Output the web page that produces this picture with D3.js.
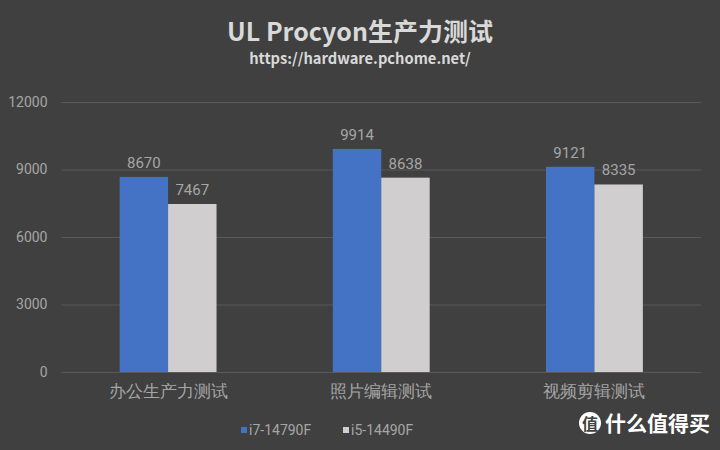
<!DOCTYPE html>
<html>
<head>
<meta charset="utf-8">
<script src="https://cdn.jsdelivr.net/npm/d3@7"></script>
<style>
  body { margin: 0; background: #404040; }
  svg { display: block; font-family: "Noto Sans CJK SC", "Noto Sans", sans-serif; }
</style>
</head>
<body>
<div id="viz"></div>
<script>
// chart data
var categories = ["办公生产力测试", "照片编辑测试", "视频剪辑测试"];
var seriesNames = ["i7-14790F", "i5-14490F"];
var i7Values = [8670, 9914, 9121];
var i5Values = [7467, 8638, 8335];
var yTicks = [0, 3000, 6000, 9000, 12000];

var seriesColors = ["#4472c4", "#d0cece"];
var labelColor = "#a6a6a6";

var width = 720, height = 450;
var margin = {top: 102, right: 19, bottom: 78, left: 61.5};

var svg = d3.select("#viz").append("svg")
    .attr("width", width)
    .attr("height", height);

svg.append("rect").attr("width", width).attr("height", height).attr("fill", "#404040");

// title
svg.append("text")
    .attr("x", 360).attr("y", 41)
    .attr("text-anchor", "middle")
    .attr("font-size", "25px")
    .attr("font-weight", "bold")
    .attr("fill", "#d9d9d9")
    .text("UL Procyon生产力测试");

svg.append("text")
    .attr("x", 360).attr("y", 64)
    .attr("text-anchor", "middle")
    .attr("font-size", "14.7px")
    .attr("font-weight", "bold")
    .attr("fill", "#d9d9d9")
    .text("https://hardware.pchome.net/");

var x0 = d3.scaleBand()
    .domain(categories)
    .range([margin.left, width - margin.right]);

var x1 = d3.scaleBand()
    .domain(seriesNames)
    .range([0, x0.bandwidth()])
    .paddingInner(0)
    .paddingOuter(1.2);

var y = d3.scaleLinear()
    .domain([0, 12000])
    .range([height - margin.bottom, margin.top]);

// gridlines + y labels
var yAxis = d3.axisLeft(y)
    .tickValues(yTicks)
    .tickSize(-(width - margin.left - margin.right))
    .tickPadding(14)
    .tickFormat(d3.format("d"));

var gy = svg.append("g")
    .attr("transform", "translate(" + margin.left + ",0)")
    .call(yAxis);
gy.select(".domain").remove();
gy.selectAll(".tick line").attr("stroke", "#595959").attr("stroke-width", 1);
gy.selectAll(".tick text")
    .attr("fill", labelColor)
    .attr("font-size", "14px")
    .attr("font-family", "Roboto, 'Noto Sans', sans-serif");

// bars
var rows = categories.map(function(c, i) {
    return {cat: c, vals: [
        {name: seriesNames[0], v: i7Values[i]},
        {name: seriesNames[1], v: i5Values[i]}
    ]};
});

var groups = svg.selectAll(".grp").data(rows).enter().append("g")
    .attr("class", "grp")
    .attr("transform", function(d) { return "translate(" + x0(d.cat) + ",0)"; });

groups.selectAll("rect").data(function(d) { return d.vals; }).enter().append("rect")
    .attr("x", function(d) { return x1(d.name); })
    .attr("y", function(d) { return y(d.v); })
    .attr("width", x1.bandwidth())
    .attr("height", function(d) { return y(0) - y(d.v); })
    .attr("fill", function(d, i) { return seriesColors[i]; });

groups.selectAll(".val").data(function(d) { return d.vals; }).enter().append("text")
    .attr("class", "val")
    .attr("x", function(d) { return x1(d.name) + x1.bandwidth() / 2; })
    .attr("y", function(d) { return y(d.v) - 9; })
    .attr("text-anchor", "middle")
    .attr("font-size", "15px")
    .attr("font-family", "Roboto, 'Noto Sans', sans-serif")
    .attr("fill", labelColor)
    .text(function(d) { return d.v; });

// x axis
var gx = svg.append("g")
    .attr("transform", "translate(0," + y(0) + ")")
    .call(d3.axisBottom(x0).tickSize(0).tickPadding(13));
gx.select(".domain").attr("stroke", "#595959");
gx.selectAll(".tick text")
    .attr("fill", labelColor)
    .attr("font-size", "16.5px");

// legend
var legendX = [241, 343];
var legend = svg.selectAll(".leg").data(seriesNames).enter().append("g")
    .attr("class", "leg")
    .attr("transform", function(d, i) { return "translate(" + legendX[i] + ",426)"; });
legend.append("rect")
    .attr("width", 6).attr("height", 6).attr("y", 1)
    .attr("fill", function(d, i) { return seriesColors[i]; });
legend.append("text")
    .attr("x", 8).attr("y", 9)
    .attr("font-size", "14px")
    .attr("font-family", "Roboto, 'Noto Sans', sans-serif")
    .attr("fill", labelColor)
    .text(function(d) { return d; });

// watermark
svg.append("circle").attr("cx", 590).attr("cy", 423).attr("r", 11).attr("fill", "#ffffff");
svg.append("text")
    .attr("x", 590).attr("y", 430)
    .attr("text-anchor", "middle")
    .attr("font-size", "16px").attr("font-weight", "bold")
    .attr("fill", "#404040")
    .text("值");
svg.append("text")
    .attr("x", 605).attr("y", 431)
    .attr("font-size", "21px").attr("font-weight", "bold")
    .attr("fill", "#ffffff")
    .text("什么值得买");
</script>
</body>
</html>
